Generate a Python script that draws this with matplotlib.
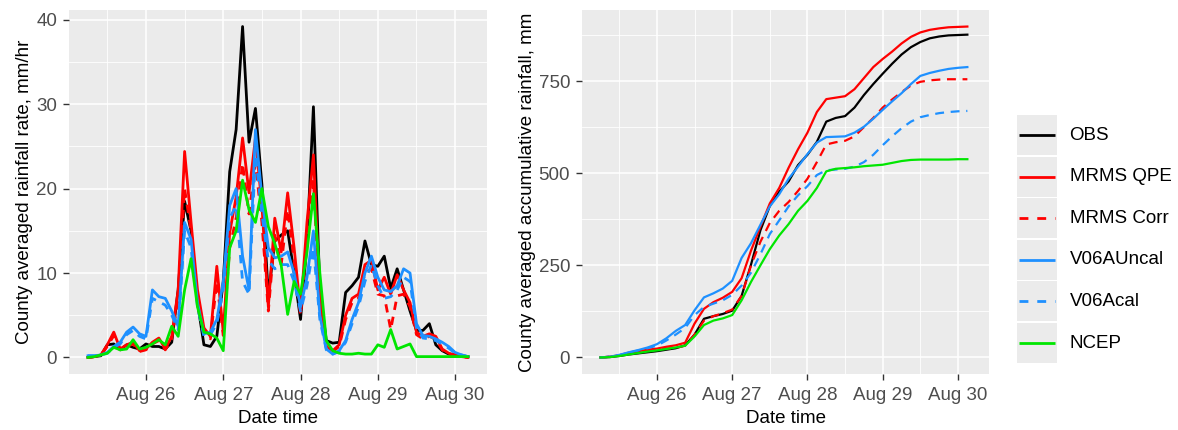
import numpy as np
import pandas as pd
import matplotlib
matplotlib.use("Agg")
import matplotlib.pyplot as plt
import matplotlib.dates as mdates
from matplotlib.patches import Rectangle

plt.rcParams['font.family'] = ['Liberation Sans', 'DejaVu Sans']

# ---------------------------------------------------------------- data
START = pd.Timestamp("2017-08-25 00:00")

# hourly offsets from START
rate_hours = list(range(6, 125, 2))
cum_hours = list(range(6, 124, 3))

series_names = ["OBS", "MRMS QPE", "MRMS Corr", "V06AUncal", "V06Acal", "NCEP"]
series_colors = ["#000000", "#FF0000", "#FF0000", "#1E90FF", "#1E90FF", "#00E600"]
series_dashed = [False, False, True, False, True, False]

# county averaged rainfall rate, mm/hr
rate_obs = [0.0, 0.1, 0.2, 1.5, 1.6, 0.9, 1.5, 1.2, 1.0, 1.6,
            1.3, 1.3, 1.0, 1.8, 8.0, 18.5, 15.0, 6.5, 1.5, 1.3,
            2.5, 9.0, 22.0, 27.0, 39.2, 25.5, 29.5, 20.5, 7.3, 13.8,
            14.5, 15.0, 10.0, 4.5, 13.5, 29.7, 8.0, 2.0, 1.7, 1.8,
            7.7, 8.5, 9.5, 13.8, 11.0, 10.8, 12.0, 8.2, 10.5, 8.0,
            5.5, 3.2, 3.2, 4.0, 1.5, 0.8, 0.4, 0.3, 0.2, 0.1]
rate_mrms_qpe = [0.0, 0.1, 0.3, 1.5, 3.0, 1.0, 1.5, 1.8, 0.8, 1.0,
                 1.8, 2.3, 1.0, 2.5, 8.0, 24.4, 16.0, 8.0, 3.5, 2.5,
                 10.8, 3.0, 14.8, 19.0, 26.0, 19.5, 26.0, 18.0, 6.0, 16.5,
                 12.5, 19.5, 13.0, 5.5, 16.0, 24.0, 7.0, 1.3, 0.8, 1.5,
                 5.0, 7.0, 7.5, 11.0, 11.5, 8.0, 9.5, 7.5, 9.8, 8.0,
                 6.5, 3.0, 2.5, 2.8, 2.5, 1.0, 0.5, 0.3, 0.1, 0.0]
rate_mrms_corr = [0.0, 0.1, 0.3, 1.3, 2.6, 0.9, 1.3, 1.6, 0.7, 0.9,
                  1.6, 2.0, 0.9, 2.2, 7.0, 20.0, 15.0, 7.0, 3.0, 2.2,
                  9.0, 2.6, 13.0, 16.5, 23.0, 17.0, 23.0, 16.0, 5.5, 14.5,
                  11.0, 17.5, 11.5, 5.0, 14.0, 21.0, 6.0, 1.2, 0.7, 1.3,
                  4.5, 6.5, 7.0, 10.0, 10.5, 7.5, 7.3, 3.3, 7.3, 7.5,
                  6.0, 2.7, 2.2, 2.5, 2.2, 0.9, 0.4, 0.3, 0.1, 0.0]
rate_v06a_uncal = [0.2, 0.2, 0.3, 0.6, 1.3, 1.8, 3.0, 3.6, 2.8, 2.5,
                   8.0, 7.2, 7.0, 5.5, 3.7, 16.0, 14.0, 6.5, 2.8, 3.0,
                   4.5, 9.0, 18.0, 20.0, 12.0, 8.0, 27.0, 19.0, 13.0, 11.8,
                   12.0, 12.5, 10.0, 6.0, 9.5, 15.0, 5.0, 1.0, 0.4, 0.8,
                   2.0, 4.5, 6.5, 10.0, 12.0, 9.5, 8.0, 7.8, 8.5, 10.5,
                   10.0, 4.0, 2.6, 2.5, 2.2, 1.8, 1.3, 0.6, 0.3, 0.1]
rate_v06a_cal = [0.2, 0.2, 0.3, 0.5, 1.2, 1.6, 2.7, 3.2, 2.5, 2.2,
                 7.0, 6.6, 6.2, 5.0, 3.3, 15.0, 13.0, 6.0, 2.5, 2.7,
                 4.0, 8.0, 16.5, 18.0, 9.0, 7.5, 24.0, 17.0, 11.5, 10.5,
                 11.0, 11.0, 9.0, 5.5, 8.5, 13.0, 4.5, 0.9, 0.4, 0.7,
                 1.8, 4.0, 6.0, 9.0, 11.0, 8.5, 7.0, 7.2, 8.0, 9.5,
                 9.0, 3.5, 2.3, 2.2, 2.0, 1.6, 1.1, 0.5, 0.3, 0.1]
rate_ncep = [0.0, 0.1, 0.3, 0.5, 1.2, 0.9, 1.0, 2.1, 1.0, 1.2,
             1.6, 2.1, 1.5, 3.7, 2.5, 8.0, 11.7, 6.0, 3.0, 2.8,
             2.3, 0.8, 13.0, 15.0, 21.0, 17.5, 16.0, 20.0, 15.5, 13.5,
             10.9, 5.1, 9.0, 7.5, 12.5, 19.4, 10.0, 2.0, 0.8, 0.5,
             0.4, 0.4, 0.5, 0.4, 0.4, 1.5, 1.2, 3.3, 1.0, 1.3,
             1.6, 0.1, 0.1, 0.1, 0.1, 0.1, 0.1, 0.1, 0.1, 0.1]

# county averaged accumulative rainfall, mm
cum_obs = [0, 1, 4, 8, 11, 14, 17, 21, 25, 33,
           62, 105, 112, 118, 127, 167, 252, 345, 411, 450,
           478, 522, 550, 585, 640, 650, 655, 678, 712, 742,
           770, 797, 822, 842, 856, 866, 871, 874, 875, 876]
cum_mrms_qpe = [0, 2, 6, 13, 17, 21, 24, 29, 33, 40,
                92, 132, 150, 162, 178, 215, 290, 355, 418, 460,
                515, 565, 610, 666, 701, 705, 709, 728, 758, 788,
                810, 830, 852, 870, 882, 889, 893, 896, 897, 898]
cum_mrms_corr = [0, 2, 5, 10, 14, 18, 21, 24, 26, 32,
                 62, 100, 112, 120, 130, 167, 250, 314, 365, 398,
                 422, 452, 485, 530, 578, 584, 588, 600, 625, 650,
                 678, 700, 720, 738, 748, 752, 754, 755, 755, 755]
cum_v06a_uncal = [0, 2, 7, 14, 20, 27, 36, 52, 72, 88,
                  128, 163, 174, 187, 208, 270, 310, 360, 410, 443,
                  485, 518, 552, 583, 598, 599, 600, 610, 626, 648,
                  672, 695, 717, 742, 764, 772, 778, 783, 786, 788]
cum_v06a_cal = [0, 2, 6, 13, 19, 25, 32, 46, 62, 80,
                115, 137, 146, 155, 170, 195, 230, 280, 335, 372,
                410, 440, 465, 495, 508, 510, 512, 518, 530, 550,
                576, 600, 622, 640, 652, 658, 663, 666, 668, 669]
cum_ncep = [0, 1, 4, 8, 12, 16, 19, 23, 27, 32,
            57, 88, 100, 106, 115, 155, 205, 250, 294, 331,
            362, 398, 425, 460, 505, 512, 514, 516, 519, 521,
            523, 528, 533, 536, 537, 537, 537, 537, 538, 538]

rate_series = [rate_obs, rate_mrms_qpe, rate_mrms_corr,
               rate_v06a_uncal, rate_v06a_cal, rate_ncep]
cum_series = [cum_obs, cum_mrms_qpe, cum_mrms_corr,
              cum_v06a_uncal, cum_v06a_cal, cum_ncep]

x_label = "Date time"
y_label_rate = "County averaged rainfall rate, mm/hr"
y_label_cum = "County averaged accumulative rainfall, mm"


# ---------------------------------------------------------------- helpers
def to_time(hours):
    return START + pd.to_timedelta(hours, unit="h")


rate_t = to_time(rate_hours)
cum_t = to_time(cum_hours)

# ggplot-like 5% expansion on x
t_span = rate_t[-1] - rate_t[0]
x_lo = rate_t[0] - 0.05 * t_span
x_hi = rate_t[-1] + 0.05 * t_span

PANEL_BG = "#EBEBEB"
TICK_COL = "#333333"
TICK_TXT = "#4D4D4D"
FS = 13.5


def style_panel(ax, y_values, y_major, y_minor, ylabel, labelpad):
    ax.set_facecolor(PANEL_BG)
    for s in ax.spines.values():
        s.set_visible(False)
    lo = min(min(v) for v in y_values)
    hi = max(max(v) for v in y_values)
    pad = 0.05 * (hi - lo)
    ax.set_ylim(lo - pad, hi + pad)
    ax.set_xlim(x_lo, x_hi)
    ax.set_yticks(y_major)
    ax.set_yticks(y_minor, minor=True)
    ax.xaxis.set_major_locator(mdates.DayLocator())
    ax.xaxis.set_major_formatter(mdates.DateFormatter("%b %d"))
    ax.xaxis.set_minor_locator(mdates.HourLocator(byhour=[12]))
    ax.grid(which="major", color="white", linewidth=1.15)
    ax.grid(which="minor", color="white", linewidth=0.6)
    ax.set_axisbelow(True)
    ax.tick_params(which="major", length=4.5, width=1.0, color=TICK_COL,
                   labelcolor=TICK_TXT, labelsize=FS)
    ax.tick_params(axis="x", which="major", pad=4.5)
    ax.tick_params(axis="y", which="major", pad=4.0)
    ax.tick_params(which="minor", length=0)
    ax.set_xlabel(x_label, fontsize=FS, color="black", labelpad=5)
    ax.set_ylabel(ylabel, fontsize=FS, color="black", labelpad=labelpad)


fig = plt.figure(figsize=(11.78, 4.30), dpi=100)
W, H = 1178.0, 430.0

ax1 = fig.add_axes([69 / W, 1 - 374 / H, 418 / W, 364 / H])
ax2 = fig.add_axes([582 / W, 1 - 374 / H, 407 / W, 364 / H])

# ---------------------------------------------------------------- rate panel
for vals, col, dashed in zip(rate_series, series_colors, series_dashed):
    ax1.plot(rate_t, vals, color=col, linewidth=2.0,
             linestyle=(0, (3, 2.5)) if dashed else "-",
             solid_joinstyle="round", dash_capstyle="butt")
style_panel(ax1, rate_series, [0, 10, 20, 30, 40], [5, 15, 25, 35],
            y_label_rate, 2)

# ---------------------------------------------------------------- cumulative panel
for vals, col, dashed in zip(cum_series, series_colors, series_dashed):
    ax2.plot(cum_t, vals, color=col, linewidth=1.6,
             linestyle=(0, (4, 3)) if dashed else "-",
             solid_joinstyle="round", dash_capstyle="butt")
style_panel(ax2, cum_series, [0, 250, 500, 750], [125, 375, 625, 875],
            y_label_cum, 2)

# ---------------------------------------------------------------- legend
leg = fig.add_axes([0, 0, 1, 1])
leg.set_xlim(0, W)
leg.set_ylim(H, 0)
leg.axis("off")
leg.patch.set_alpha(0)
key_x0, key_w = 1016.5, 40.5
row_h = 41.6
row0 = 135.0
for i, (name, col, dashed) in enumerate(zip(series_names, series_colors,
                                             series_dashed)):
    yc = row0 + i * row_h
    leg.add_patch(Rectangle((key_x0, yc - row_h / 2 + 0.7), key_w, row_h - 1.4,
                            facecolor=PANEL_BG, edgecolor="none"))
    leg.plot([key_x0 + 2, key_x0 + key_w - 2], [yc, yc], color=col,
             linewidth=2.0, linestyle=(0, (3.2, 3.2)) if dashed else "-",
             dash_capstyle="butt", solid_capstyle="butt")
    leg.text(1069.5, yc, name, fontsize=FS, color="black",
             va="center", ha="left")

fig.savefig("out.png", dpi=100, facecolor="white")
